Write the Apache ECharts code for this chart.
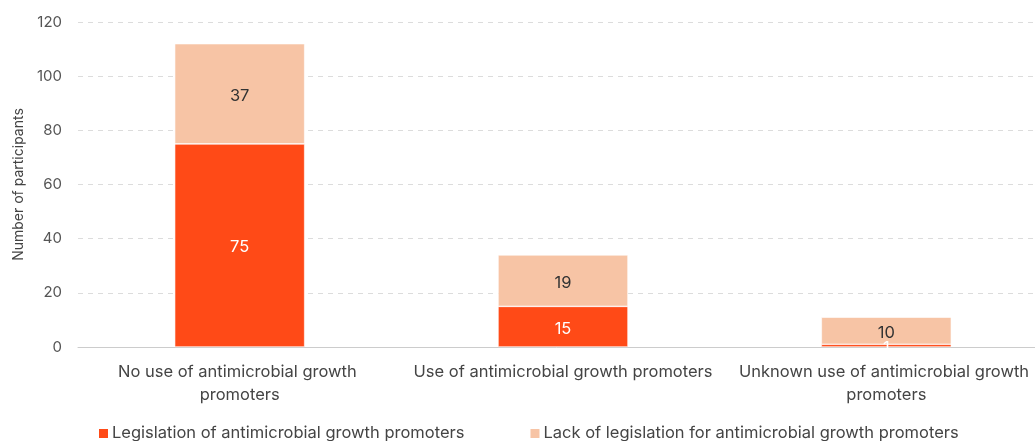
<!DOCTYPE html>
<html>
<head>
<meta charset="utf-8">
<script src="https://cdn.jsdelivr.net/npm/echarts@6/dist/echarts.min.js"></script>
<style>
  html, body { margin: 0; padding: 0; background: #fff; }
  #chart { width: 1035px; height: 441px; }
</style>
</head>
<body>
<div id="chart"></div>
<script>
// Participants by use of antimicrobial growth promoters
const categories = [
  'No use of antimicrobial growth promoters',
  'Use of antimicrobial growth promoters',
  'Unknown use of antimicrobial growth promoters'
];
const legislation = [75, 15, 1];
const lackOfLegislation = [37, 19, 10];
const seriesNames = [
  'Legislation of antimicrobial growth promoters',
  'Lack of legislation for antimicrobial growth promoters'
];
const yTicks = [0, 20, 40, 60, 80, 100, 120];

const font = 'Inter, "Noto Sans", sans-serif';
const chart = echarts.init(document.getElementById('chart'));

chart.setOption({
  animation: false,
  textStyle: { fontFamily: font },
  grid: {
    left: 78, top: 22, width: 970, bottom: 94,
    containLabel: false,
    outerBoundsMode: 'none'
  },
  legend: {
    top: 420,
    left: 92,
    itemWidth: 11,
    itemHeight: 11,
    itemGap: 64,
    icon: 'rect',
    textStyle: { fontFamily: font, fontSize: 16.5, color: '#444', padding: [0, 0, 0, -2] },
    data: seriesNames
  },
  xAxis: {
    type: 'category',
    data: categories,
    axisLine: { lineStyle: { color: '#cccccc' } },
    axisTick: { show: false },
    axisLabel: {
      color: '#444',
      fontSize: 16.5,
      lineHeight: 23,
      margin: 14,
      width: 312,
      overflow: 'break',
      interval: 0
    }
  },
  yAxis: {
    type: 'value',
    min: yTicks[0],
    max: yTicks[yTicks.length - 1],
    interval: 20,
    name: 'Number of participants',
    nameLocation: 'middle',
    nameGap: 52,
    nameTextStyle: { color: '#444', fontSize: 14, fontFamily: font },
    axisLine: { show: false },
    axisTick: { show: false },
    axisLabel: { color: '#555', fontSize: 15, margin: 16 },
    splitLine: { lineStyle: { color: '#dcdcdc', type: [5, 5] } }
  },
  series: [
    {
      name: seriesNames[0],
      type: 'bar',
      stack: 'total',
      barWidth: 130,
      data: legislation,
      itemStyle: { color: '#FF4A17', borderColor: '#ffffff', borderWidth: 0.6 },
      label: { show: true, position: 'inside', color: '#ffffff', fontSize: 16.5, fontFamily: font, offset: [0, 2] }
    },
    {
      name: seriesNames[1],
      type: 'bar',
      stack: 'total',
      barWidth: 130,
      data: lackOfLegislation,
      itemStyle: { color: '#F7C4A5', borderColor: '#ffffff', borderWidth: 0.6 },
      label: { show: true, position: 'inside', color: '#333333', fontSize: 16.5, fontFamily: font, offset: [0, 2] }
    }
  ]
});
</script>
</body>
</html>
